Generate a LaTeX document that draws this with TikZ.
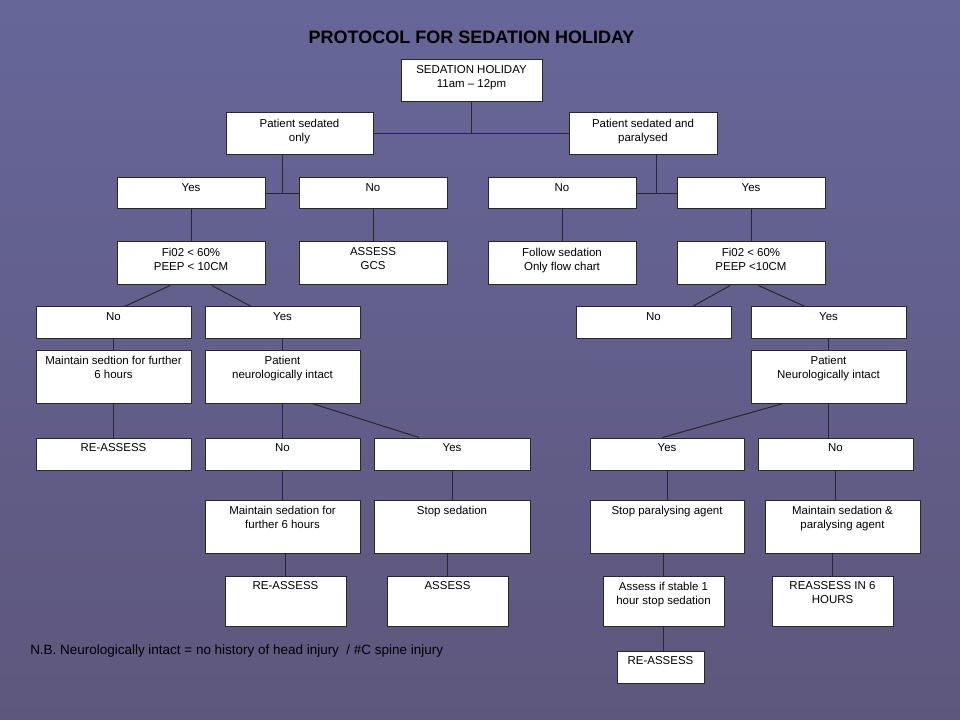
\documentclass[tikz,border=0pt]{standalone}
\usepackage{fontspec}
\setmainfont{Liberation Sans}
\usetikzlibrary{fit,calc}
\definecolor{bgtop}{RGB}{102,102,153}
\definecolor{bgbot}{RGB}{94,87,125}
\definecolor{edge}{RGB}{40,40,40}
\begin{document}
\begin{tikzpicture}[x=0.75pt,y=-0.75pt,
  flowbox/.style={draw=edge, fill=white, inner sep=0pt, line width=0.75pt},
  boxtext/.style={anchor=north, align=center, inner sep=0pt, yshift=-4.5pt, font=\fontsize{8.6}{10.5}\selectfont},
  link/.style={draw=edge, line width=0.75pt}]
\useasboundingbox (0,0) rectangle (960,720);
\shade[top color=bgtop, bottom color=bgbot] (0,0) rectangle (960,720);
\node[font=\bfseries\fontsize{13.5}{16}\selectfont] (title) at (471.5,37) {PROTOCOL FOR SEDATION HOLIDAY};
\node[flowbox, fit={(401,60) (542,102)}, label={[boxtext]north:{SEDATION HOLIDAY\\11am – 12pm}}] (hol) {};
\node[flowbox, fit={(226,113) (373,155)}, label={[boxtext]north:{Patient sedated\\only}}] (only) {};
\node[flowbox, fit={(569,113) (717,155)}, label={[boxtext]north:{Patient sedated and\\paralysed}}] (para) {};
\node[flowbox, fit={(117,178) (265,209)}, label={[boxtext]north:{Yes}}] (yesA) {};
\node[flowbox, fit={(299,178) (447,209)}, label={[boxtext]north:{No}}] (noA) {};
\node[flowbox, fit={(488,178) (636,209)}, label={[boxtext]north:{No}}] (noB) {};
\node[flowbox, fit={(677,178) (825,209)}, label={[boxtext]north:{Yes}}] (yesB) {};
\node[flowbox, fit={(117,242) (265,285)}, label={[boxtext]north:{Fi02 < 60\%\\PEEP < 10CM}}] (fiA) {};
\node[flowbox, fit={(299,242) (447,285)}, label={[boxtext]north:{ASSESS\\GCS}}] (gcs) {};
\node[flowbox, fit={(488,242) (636,285)}, label={[boxtext]north:{Follow sedation\\Only flow chart}}] (follow) {};
\node[flowbox, fit={(677,242) (825,285)}, label={[boxtext]north:{Fi02 < 60\%\\PEEP <10CM}}] (fiB) {};
\node[flowbox, fit={(36,307) (191,338)}, label={[boxtext]north:{No}}] (noC) {};
\node[flowbox, fit={(205,307) (360,338)}, label={[boxtext]north:{Yes}}] (yesC) {};
\node[flowbox, fit={(576,307) (731,338)}, label={[boxtext]north:{No}}] (noD) {};
\node[flowbox, fit={(751,307) (906,338)}, label={[boxtext]north:{Yes}}] (yesD) {};
\node[flowbox, fit={(36,350) (191,403)}, label={[boxtext]north:{Maintain sedtion for further\\6 hours}}] (msix) {};
\node[flowbox, fit={(205,350) (360,403)}, label={[boxtext]north:{Patient\\neurologically intact}}] (neuA) {};
\node[flowbox, fit={(751,350) (906,403)}, label={[boxtext]north:{Patient\\Neurologically intact}}] (neuB) {};
\node[flowbox, fit={(36,438) (191,470)}, label={[boxtext]north:{RE-ASSESS}}] (reA) {};
\node[flowbox, fit={(205,438) (360,470)}, label={[boxtext]north:{No}}] (noE) {};
\node[flowbox, fit={(374,438) (530,470)}, label={[boxtext]north:{Yes}}] (yesE) {};
\node[flowbox, fit={(590,438) (744,470)}, label={[boxtext]north:{Yes}}] (yesF) {};
\node[flowbox, fit={(758,438) (913,470)}, label={[boxtext]north:{No}}] (noF) {};
\node[flowbox, fit={(205,500) (360,553)}, label={[boxtext]north:{Maintain sedation for\\further 6 hours}}] (msB) {};
\node[flowbox, fit={(374,500) (530,553)}, label={[boxtext]north:{Stop sedation}}] (stopS) {};
\node[flowbox, fit={(590,500) (744,553)}, label={[boxtext]north:{Stop paralysing agent}}] (stopP) {};
\node[flowbox, fit={(765,500) (920,553)}, label={[boxtext]north:{Maintain sedation \&\\paralysing agent}}] (msP) {};
\node[flowbox, fit={(225,576) (346,626)}, label={[boxtext]north:{RE-ASSESS}}] (reB) {};
\node[flowbox, fit={(387,576) (508,626)}, label={[boxtext]north:{ASSESS}}] (assess) {};
\node[flowbox, fit={(603,576) (724,626)}, label={[boxtext]north:{Assess if stable 1\\hour stop sedation}}] (stable) {};
\node[flowbox, fit={(772,576) (893,626)}, label={[boxtext]north:{REASSESS IN 6\\HOURS}}] (reas) {};
\node[flowbox, fit={(617,651) (704,683)}, label={[boxtext]north:{RE-ASSESS}}] (reC) {};
\node[anchor=west, inner sep=0pt, font=\fontsize{10.1}{12}\selectfont] (note) at (30,651) {N.B. Neurologically intact = no history of head injury\ \ / \#C spine injury};
\coordinate (jA) at ($(yesA.east)!0.5!(noA.west)$);
\coordinate (jB) at ($(noB.east)!0.5!(yesB.west)$);
\draw[link] (hol) -- (hol |- only.east);
\draw[link] (only.east) -- (para.west);
\draw[link] (yesA.east) -- (noA.west);
\draw[link] (jA) -- (jA |- only.south);
\draw[link] (noB.east) -- (yesB.west);
\draw[link] (jB) -- (jB |- para.south);
\draw[link] (yesA) -- (fiA);
\draw[link] (noA) -- (gcs);
\draw[link] (noB) -- (follow);
\draw[link] (yesB) -- (fiB);
\draw[link] ($(fiA.south west)!0.36!(fiA.south east)$) -- ($(noC.north west)!0.57!(noC.north east)$);
\draw[link] ($(fiA.south west)!0.64!(fiA.south east)$) -- ($(yesC.north west)!0.30!(yesC.north east)$);
\draw[link] ($(fiB.south west)!0.36!(fiB.south east)$) -- ($(noD.north west)!0.75!(noD.north east)$);
\draw[link] ($(fiB.south west)!0.55!(fiB.south east)$) -- ($(yesD.north west)!0.35!(yesD.north east)$);
\draw[link] (noC) -- (msix);
\draw[link] (yesC) -- (neuA);
\draw[link] (yesD) -- (neuB);
\draw[link] (msix) -- (reA);
\draw[link] (neuA) -- (noE);
\draw[link] (neuB) -- (neuB |- noF.north);
\draw[link] ($(neuA.south west)!0.69!(neuA.south east)$) -- ($(yesE.north west)!0.29!(yesE.north east)$);
\draw[link] ($(neuB.south west)!0.21!(neuB.south east)$) -- ($(yesF.north west)!0.47!(yesF.north east)$);
\draw[link] (noE) -- (msB);
\draw[link] (yesE) -- (stopS);
\draw[link] (yesF) -- (stopP);
\draw[link] (noF) -- (noF |- msP.north);
\draw[link] (msB.south -| reB) -- (reB);
\draw[link] (stopS.south -| assess) -- (assess);
\draw[link] (stopP.south -| stable) -- (stable);
\draw[link] (msP.south -| reas) -- (reas);
\draw[link] (stable) -- (stable |- reC.north);
\end{tikzpicture}
\end{document}
